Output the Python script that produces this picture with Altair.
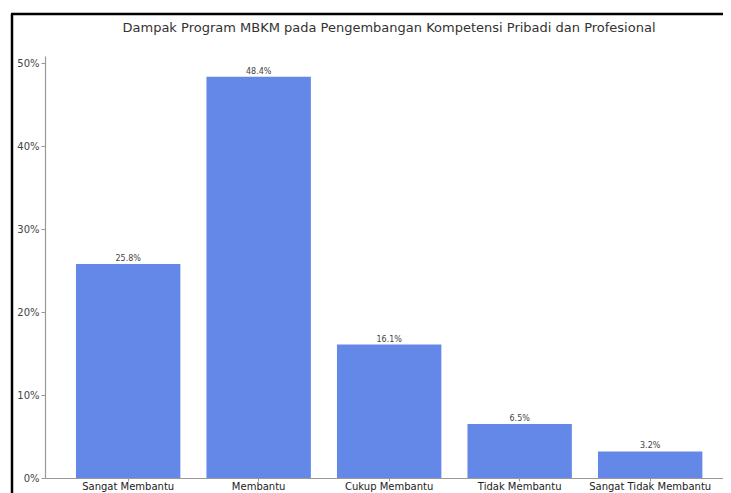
import altair as alt
import pandas as pd

categories = ["Sangat Membantu", "Membantu", "Cukup Membantu", "Tidak Membantu", "Sangat Tidak Membantu"]
values = [25.8, 48.4, 16.1, 6.5, 3.2]
labels = ["25.8%", "48.4%", "16.1%", "6.5%", "3.2%"]
y_ticks = [0, 10, 20, 30, 40, 50]

df = pd.DataFrame({"cat": categories, "val": values, "lab": labels})

W, H = 678, 422
FONT = "DejaVu Sans"

xscale = alt.Scale(domain=categories, paddingInner=0.2, paddingOuter=0.1977, align=0.6)
yscale = alt.Scale(domain=[0, 50.9], nice=False)

base = alt.Chart(df)

bars = base.mark_bar(color="#6388E8").encode(
    x=alt.X("cat:N", scale=xscale, sort=categories,
            axis=alt.Axis(title=None, labelAngle=0, labelFontSize=10, labelColor="#222",
                          labelFont=FONT, domainColor="#999", tickColor="#999",
                          tickSize=3, labelPadding=0, domainWidth=1.2)),
    y=alt.Y("val:Q", scale=yscale,
            axis=alt.Axis(title=None, values=y_ticks, labelExpr="datum.value + '%'",
                          labelFontSize=10, labelColor="#444", labelFont=FONT,
                          domainColor="#999", tickColor="#999", tickSize=4,
                          labelPadding=2, grid=False, domainWidth=1.2)),
)

text = base.mark_text(baseline="bottom", dy=-1, fontSize=8, color="#444", font=FONT).encode(
    x=alt.X("cat:N", scale=xscale, sort=categories),
    y=alt.Y("val:Q", scale=yscale),
    text="lab:N",
)

frame_left = alt.Chart(pd.DataFrame({"a": [0]})).mark_rule(color="black", strokeWidth=2.5).encode(
    x=alt.value(-33), x2=alt.value(-33), y=alt.value(-42), y2=alt.value(H + 30)
)
frame_top = alt.Chart(pd.DataFrame({"a": [0]})).mark_rule(color="black", strokeWidth=2.5).encode(
    x=alt.value(-34), x2=alt.value(W + 2), y=alt.value(-42), y2=alt.value(-42)
)

chart = alt.layer(bars, text, frame_left, frame_top).properties(
    width=W, height=H,
    title=alt.TitleParams("Dampak Program MBKM pada Pengembangan Kompetensi Pribadi dan Profesional",
                          fontSize=13, font=FONT, fontWeight="normal", color="#333",
                          anchor="middle", offset=0, dy=22, dx=5, frame="group"),
    autosize=alt.AutoSizeParams(type="none"),
    padding={"left": 37, "top": 48, "right": 0, "bottom": 20},
    background="white",
).configure_view(strokeWidth=0, stroke="transparent")

chart.save("out.html", embed_options={"renderer": "svg", "actions": False})
